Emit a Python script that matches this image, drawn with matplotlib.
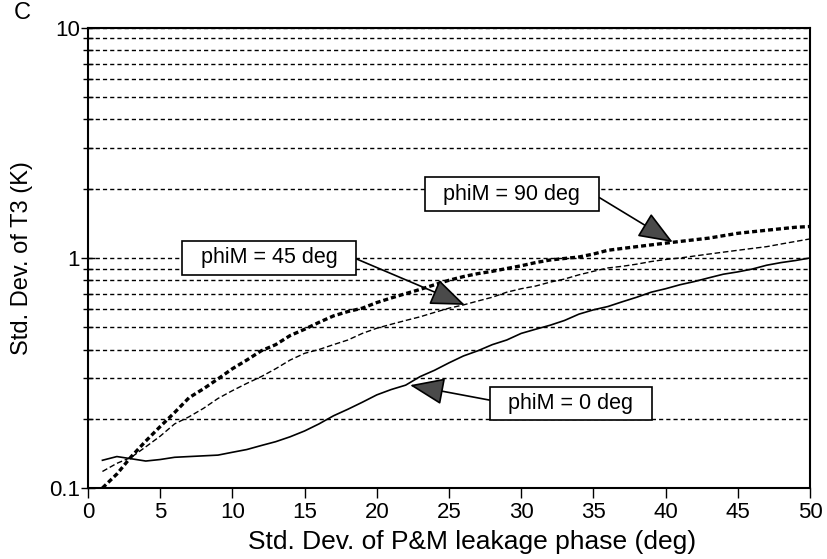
import numpy as np
import matplotlib
matplotlib.use("Agg")
import matplotlib.pyplot as plt
from matplotlib.ticker import LogLocator, FixedLocator, NullFormatter

plt.rcParams['font.family'] = ['Liberation Sans', 'DejaVu Sans']

# std. dev. of P&M leakage phase (deg)
phase_sd = list(range(1, 51))

# std. dev. of T3 (K) for each phiM setting
t3_phi0 = [0.132, 0.137, 0.134, 0.131, 0.133, 0.136, 0.137, 0.138, 0.139, 0.143,
           0.147, 0.153, 0.159, 0.167, 0.177, 0.190, 0.206, 0.220, 0.236, 0.254,
           0.268, 0.280, 0.305, 0.325, 0.350, 0.375, 0.395, 0.420, 0.440, 0.470,
           0.490, 0.510, 0.535, 0.570, 0.595, 0.615, 0.645, 0.675, 0.710, 0.735,
           0.765, 0.790, 0.820, 0.850, 0.870, 0.895, 0.930, 0.955, 0.975, 1.000]
t3_phi45 = [0.118, 0.128, 0.136, 0.151, 0.168, 0.190, 0.204, 0.222, 0.245, 0.265,
            0.285, 0.305, 0.330, 0.360, 0.385, 0.400, 0.420, 0.440, 0.470, 0.495,
            0.515, 0.535, 0.555, 0.580, 0.605, 0.625, 0.650, 0.675, 0.710, 0.735,
            0.755, 0.785, 0.810, 0.845, 0.875, 0.905, 0.920, 0.940, 0.965, 0.985,
            1.000, 1.020, 1.040, 1.060, 1.080, 1.100, 1.120, 1.150, 1.180, 1.210]
t3_phi90 = [0.100, 0.115, 0.137, 0.160, 0.185, 0.213, 0.247, 0.270, 0.298, 0.330,
            0.360, 0.395, 0.420, 0.460, 0.490, 0.525, 0.560, 0.585, 0.605, 0.640,
            0.670, 0.700, 0.730, 0.765, 0.800, 0.830, 0.855, 0.875, 0.900, 0.925,
            0.955, 0.980, 0.995, 1.010, 1.040, 1.080, 1.100, 1.120, 1.140, 1.160,
            1.180, 1.200, 1.220, 1.250, 1.280, 1.300, 1.320, 1.340, 1.360, 1.370]

x_ticks = [0, 5, 10, 15, 20, 25, 30, 35, 40, 45, 50]
y_ticks = [0.1, 1, 10]
y_tick_labels = ['0.1', '1', '10']

fig = plt.figure(figsize=(8.27, 5.59), dpi=100)
ax = fig.add_axes([0.1064, 0.127, 0.873, 0.823])

ax.plot(phase_sd, t3_phi0, color='black', lw=1.2, zorder=3)
ax.plot(phase_sd, t3_phi45, color='black', lw=1.0, dashes=(4, 2), zorder=3)
ax.plot(phase_sd, t3_phi90, color='black', lw=2.4, dashes=(1.5, 0.9), zorder=3)

ax.set_yscale('log')
ax.set_xlim(0, 50)
ax.set_ylim(0.1, 10)

ax.xaxis.set_major_locator(FixedLocator(x_ticks))
ax.set_yticks(y_ticks)
ax.set_yticklabels(y_tick_labels)
ax.yaxis.set_minor_locator(LogLocator(base=10, subs=np.arange(2, 10)))
ax.yaxis.set_minor_formatter(NullFormatter())

ax.tick_params(axis='x', direction='out', length=7, width=1, labelsize=16, pad=3)
ax.tick_params(axis='y', which='major', direction='inout', length=10, width=1,
               labelsize=16, pad=1)
ax.tick_params(axis='y', which='minor', direction='inout', length=7, width=1)

# horizontal dashed grid on every decade subdivision
ax.yaxis.grid(True, which='both', color='black', lw=1.0, linestyle=(0, (3, 2.2)))
ax.set_axisbelow(True)

for s in ax.spines.values():
    s.set_linewidth(1.5)

ax.set_xlabel('Std. Dev. of P&M leakage phase (deg)', fontsize=19, va='center')
ax.xaxis.set_label_coords(0.532, -0.118)
ax.set_ylabel('Std. Dev. of T3 (K)', fontsize=17, va='center')
ax.yaxis.set_label_coords(-0.091, 0.5)

fig.text(0.027, 0.976, 'C', fontsize=17, ha='center', va='center')

box = dict(boxstyle='square,pad=0.3', fc='white', ec='black', lw=1.2)


def arrow(rel):
    return dict(arrowstyle='-|>,head_length=1.4,head_width=0.55', fc='#4a4a4a',
                ec='black', lw=1.2, shrinkA=0, shrinkB=0, relpos=rel)


ax.annotate('  phiM = 90 deg  ', xy=(40.5, t3_phi90[39] * 1.01), xytext=(29.36, 1.89),
            fontsize=15.5, ha='center', va='center', bbox=box,
            arrowprops=arrow((1, 0.55)), zorder=5)
ax.annotate('  phiM = 45 deg  ', xy=(26.1, t3_phi45[25]), xytext=(12.53, 1.0),
            fontsize=15.5, ha='center', va='center', bbox=box,
            arrowprops=arrow((1, 0.6)), zorder=5)
ax.annotate('  phiM = 0 deg  ', xy=(22.3, t3_phi0[21]), xytext=(33.45, 0.233),
            fontsize=15.5, ha='center', va='center', bbox=box,
            arrowprops=arrow((0, 0.6)), zorder=5)

fig.savefig('out.png', dpi=100)
